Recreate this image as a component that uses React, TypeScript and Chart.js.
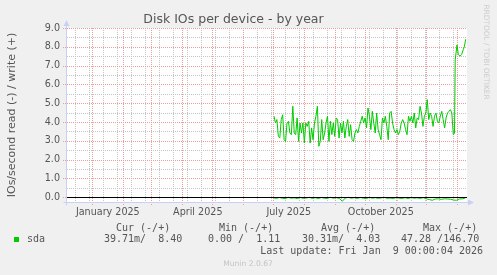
import React, { useEffect, useRef } from 'react';
import { Chart, registerables } from 'chart.js';

Chart.register(...registerables);

const FONT = 'DejaVu Sans';
const MONO = 'DejaVu Sans Mono';

// ---- data (x = days counted from 1 Jan 2025) ----
const xMinDay = -25.3;
const xMaxDay = 374.7;
const monthStartDays = [0, 31, 59, 90, 120, 151, 181, 212, 243, 273, 304, 334, 365];
const quarterDays = [0, 90, 181, 273];
const quarterLabels = ['January 2025', 'April 2025', 'July 2025', 'October 2025'];
const weekGridStart = -17;
const weekGridStep = 14;

const yMin = -0.25;
const yMax = 9;
const yMajorTicks = [0, 1, 2, 3, 4, 5, 6, 7, 8, 9];
const yMinorTicks = [0.5, 1.5, 2.5, 3.5, 4.5, 5.5, 6.5, 7.5, 8.5];

// write IOs (+), sampled from 1 Jul 2025
const writeStartDay = 181.7;
const writeStepDays = 1.446;
const writeIOs = [
  4.31, 3.95, 4.13, 3.24, 3.15, 4.13, 4.39, 3.06, 2.97, 3.95, 4.04, 3.42, 3.33, 4.84, 3.42, 3.33,
  4.22, 2.97, 3.95, 3.42, 3.95, 2.89, 3.95, 3.77, 4.04, 2.89, 3.69, 3.06, 3.95, 4.31, 4.84, 2.71,
  2.97, 4.13, 3.06, 3.42, 3.95, 4.31, 2.97, 4.04, 3.33, 3.95, 3.24, 4.22, 4.13, 3.15, 3.95, 3.42,
  4.04, 3.15, 3.77, 4.13, 3.24, 3.86, 3.06, 2.97, 3.42, 3.6, 3.42, 3.77, 4.04, 4.31, 3.95, 4.22,
  3.69, 4.75, 4.31, 3.6, 4.57, 3.95, 3.42, 4.48, 3.6, 3.33, 3.06, 4.22, 3.95, 4.31, 3.77, 3.06,
  4.48, 4.57, 3.95, 3.6, 3.42, 3.6, 3.33, 3.51, 3.95, 4.13, 3.95, 3.6, 3.33, 4.31, 4.04, 4.31,
  3.95, 4.48, 3.69, 4.22, 4.13, 4.84, 4.48, 3.77, 4.31, 4.48, 5.19, 4.13, 4.48, 4.31, 3.77, 4.31,
  4.48, 4.04, 3.95, 4.31, 4.57, 4.13, 3.69, 4.22, 4.48, 4.57, 4.66, 4.48, 3.33,
];
const writeTailDays = [362.2, 362.9, 364.7, 366.0, 367.7, 369.4, 371.0, 372.0, 373.4];
const writeTailIOs = [3.4, 7.3, 8.1, 7.6, 7.5, 7.6, 7.85, 8.0, 8.4];

// read IOs (-), every 3 days from 1 Jul 2025
const readStartDay = 181;
const readStepDays = 3;
const readIOs = [
  0.02, 0.06, 0.01, 0.05, 0.07, 0.0, 0.05, 0.03, 0.07, 0.01, 0.06, 0.04, 0.0, 0.06, 0.02, 0.07,
  0.01, 0.05, 0.06, 0.0, 0.05, 0.02, 0.06, 0.21, 0.04, 0.0, 0.05, 0.02, 0.06, 0.01, 0.05, 0.07,
  0.0, 0.05, 0.02, 0.06, 0.03, 0.0, 0.06, 0.04, 0.07, 0.01, 0.05, 0.06, 0.02, 0.07, 0.01, 0.05,
  0.03, 0.06, 0.02, 0.08, 0.12, 0.16, 0.09, 0.08, 0.11, 0.08, 0.09, 0.1, 0.14, 0.16, 0.09, 0.08,
  0.04,
];

const legendHeaders = ['Cur (-/+)', 'Min (-/+)', 'Avg (-/+)', 'Max (-/+)'];
const sdaStats = ['39.71m/  8.40', '0.00 /  1.11', '30.31m/  4.03', '47.28 /146.70'];
const deviceName = 'sda';
const lastUpdate = 'Last update: Fri Jan  9 00:00:04 2026';
const muninVersion = 'Munin 2.0.67';
const rrdCredit = 'RRDTOOL / TOBI OETIKER';

// ---- styles ----
const GREEN = '#00CC00';
const MAJOR = '#F09C9C';
const MINOR = '#C4C4C4';
const AXIS = '#C9D0F6';
const TEXT = '#555555';
const CLEAR = 'rgba(0,0,0,0)';

const headerX = [116, 219, 321, 423];
const statX = [104, 208, 302, 401];

const weekDays = (): number[] => {
  const out: number[] = [];
  for (let d = weekGridStart; d <= xMaxDay; d += weekGridStep) {
    if (!monthStartDays.includes(d) && d >= xMinDay) out.push(d);
  }
  return out;
};

const decor = {
  id: 'decor',
  beforeDraw(chart: any) {
    const { ctx, chartArea: a } = chart;
    ctx.save();
    ctx.fillStyle = '#FFFFFF';
    ctx.fillRect(a.left, a.top, a.right - a.left, a.bottom - a.top);
    ctx.restore();
  },
  beforeDatasetsDraw(chart: any) {
    const { ctx, chartArea: a, scales } = chart;
    const sx = scales.x;
    const sy = scales.y;
    const top = Math.round(a.top);
    const bottom = Math.round(a.bottom);
    const left = Math.round(a.left);
    const right = Math.round(a.right);
    ctx.save();
    ctx.lineWidth = 1;
    ctx.setLineDash([1, 1]);
    const vline = (d: number, color: string, tick: boolean) => {
      const px = Math.round(sx.getPixelForValue(d)) + 0.5;
      ctx.strokeStyle = color;
      ctx.beginPath();
      ctx.moveTo(px, top);
      ctx.lineTo(px, bottom + (tick ? 4 : 0));
      ctx.stroke();
    };
    const hline = (v: number, color: string, tick: boolean) => {
      const py = Math.round(sy.getPixelForValue(v)) + 0.5;
      ctx.strokeStyle = color;
      ctx.beginPath();
      ctx.moveTo(left - (tick ? 4 : 0), py);
      ctx.lineTo(right, py);
      ctx.stroke();
    };
    weekDays().forEach((d) => vline(d, MINOR, false));
    yMinorTicks.forEach((v) => hline(v, MINOR, false));
    monthStartDays.filter((d) => d >= xMinDay && d <= xMaxDay).forEach((d) => vline(d, MAJOR, true));
    yMajorTicks.forEach((v) => hline(v, MAJOR, true));
    ctx.restore();
  },
  afterDatasetsDraw(chart: any) {
    const { ctx, chartArea: a, scales } = chart;
    ctx.save();
    // zero line
    const y0 = Math.round(scales.y.getPixelForValue(0)) + 0.5;
    ctx.strokeStyle = '#000000';
    ctx.lineWidth = 1;
    ctx.beginPath();
    ctx.moveTo(a.left, y0);
    ctx.lineTo(a.right, y0);
    ctx.stroke();
    // axes with arrows
    const xl = Math.round(a.left) - 0.5;
    const yb = Math.round(a.bottom) + 0.5;
    ctx.strokeStyle = AXIS;
    ctx.fillStyle = AXIS;
    ctx.beginPath();
    ctx.moveTo(xl, yb + 3);
    ctx.lineTo(xl, a.top - 3);
    ctx.moveTo(xl - 3, yb);
    ctx.lineTo(a.right + 2, yb);
    ctx.stroke();
    ctx.beginPath();
    ctx.moveTo(xl, a.top - 8);
    ctx.lineTo(xl - 3, a.top - 2);
    ctx.lineTo(xl + 3, a.top - 2);
    ctx.closePath();
    ctx.fill();
    ctx.beginPath();
    ctx.moveTo(a.right + 7, yb);
    ctx.lineTo(a.right + 1, yb - 3);
    ctx.lineTo(a.right + 1, yb + 3);
    ctx.closePath();
    ctx.fill();
    ctx.restore();
  },
  afterDraw(chart: any) {
    const { ctx } = chart;
    ctx.save();
    ctx.textBaseline = 'middle';
    ctx.fillStyle = TEXT;
    ctx.font = `10px "${MONO}"`;
    ctx.textAlign = 'left';
    legendHeaders.forEach((h, i) => ctx.fillText(h, headerX[i], 228));
    sdaStats.forEach((s, i) => ctx.fillText(s, statX[i], 239.5));
    ctx.fillText(deviceName, 27, 239.5);
    ctx.textAlign = 'right';
    ctx.fillText(lastUpdate, 483, 251);
    ctx.fillStyle = GREEN;
    ctx.fillRect(14, 237, 5, 5);
    // munin version
    ctx.textAlign = 'center';
    ctx.fillStyle = '#C4C4C4';
    ctx.font = `7.6px "${FONT}"`;
    ctx.fillText(muninVersion, 248, 264);
    // rrdtool credit
    ctx.translate(486, 52);
    ctx.rotate(Math.PI / 2);
    ctx.fillStyle = '#CCCCCC';
    ctx.font = `7.4px "${FONT}"`;
    ctx.fillText(rrdCredit, 0, 0);
    ctx.restore();
  },
};

export default function App() {
  const ref = useRef<HTMLCanvasElement>(null);

  useEffect(() => {
    const writeData = writeIOs
      .map((v, i) => ({ x: writeStartDay + i * writeStepDays, y: v }))
      .concat(writeTailDays.map((d, i) => ({ x: d, y: writeTailIOs[i] })));
    const readData = readIOs.map((v, i) => ({ x: readStartDay + i * readStepDays, y: -v }));

    const isMajorY = (v: number) => yMajorTicks.includes(v);

    const chart = new Chart(ref.current as HTMLCanvasElement, {
      type: 'line',
      data: {
        datasets: [
          {
            label: 'sda write',
            data: writeData,
            borderColor: GREEN,
            borderWidth: 1,
            pointRadius: 0,
            tension: 0,
            fill: false,
          },
          {
            label: 'sda read',
            data: readData,
            borderColor: GREEN,
            borderWidth: 1,
            pointRadius: 0,
            tension: 0,
            fill: false,
          },
        ],
      },
      options: {
        animation: false,
        responsive: false,
        devicePixelRatio: 1,
        events: [],
        layout: { padding: { left: 0, right: 30, top: 0, bottom: 0 } },
        plugins: {
          legend: { display: false },
          tooltip: { enabled: false },
          title: {
            display: true,
            text: 'Disk IOs per device - by year',
            color: TEXT,
            font: { family: FONT, size: 12.5, weight: 'normal' },
            padding: { top: 12, bottom: 1 },
          },
        },
        scales: {
          x: {
            type: 'linear',
            min: xMinDay,
            max: xMaxDay,
            afterBuildTicks: (s: any) => {
              s.ticks = monthStartDays
                .filter((v) => v >= xMinDay && v <= xMaxDay)
                .map((v) => ({ value: v }));
            },
            afterFit: (s: any) => {
              s.height = 73;
            },
            ticks: {
              autoSkip: false,
              maxRotation: 0,
              minRotation: 0,
              labelOffset: 15.5,
              padding: 1.5,
              color: TEXT,
              font: { family: FONT, size: 9.6 },
              callback: (v: any) => {
                const i = quarterDays.indexOf(Number(v));
                return i >= 0 ? quarterLabels[i] : '';
              },
            },
            grid: { color: CLEAR, tickColor: CLEAR, tickLength: 3, lineWidth: 1 },
            border: { display: false },
          },
          y: {
            type: 'linear',
            min: yMin,
            max: yMax,
            afterBuildTicks: (s: any) => {
              s.ticks = yMajorTicks.map((v) => ({ value: v }));
            },
            afterFit: (s: any) => {
              s.width = 67;
            },
            ticks: {
              autoSkip: false,
              padding: 4,
              color: TEXT,
              font: { family: FONT, size: 9.6 },
              callback: (v: any) => (isMajorY(Number(v)) ? Number(v).toFixed(1) : ''),
            },
            grid: { color: CLEAR, tickColor: CLEAR, tickLength: 3, lineWidth: 1 },
            border: { display: false },
            title: {
              display: true,
              text: 'IOs/second read (-) / write (+)',
              color: TEXT,
              font: { family: FONT, size: 11 },
              padding: { top: 5.4, bottom: 0 },
            },
          },
        },
      },
      plugins: [decor],
    } as any);

    return () => chart.destroy();
  }, []);

  return (
    <div
      style={{
        position: 'fixed',
        left: 0,
        top: 0,
        width: 497,
        height: 275,
        background: '#F0F0F0',
      }}
    >
      <canvas ref={ref} width={497} height={275} style={{ display: 'block', width: 497, height: 275 }} />
    </div>
  );
}
